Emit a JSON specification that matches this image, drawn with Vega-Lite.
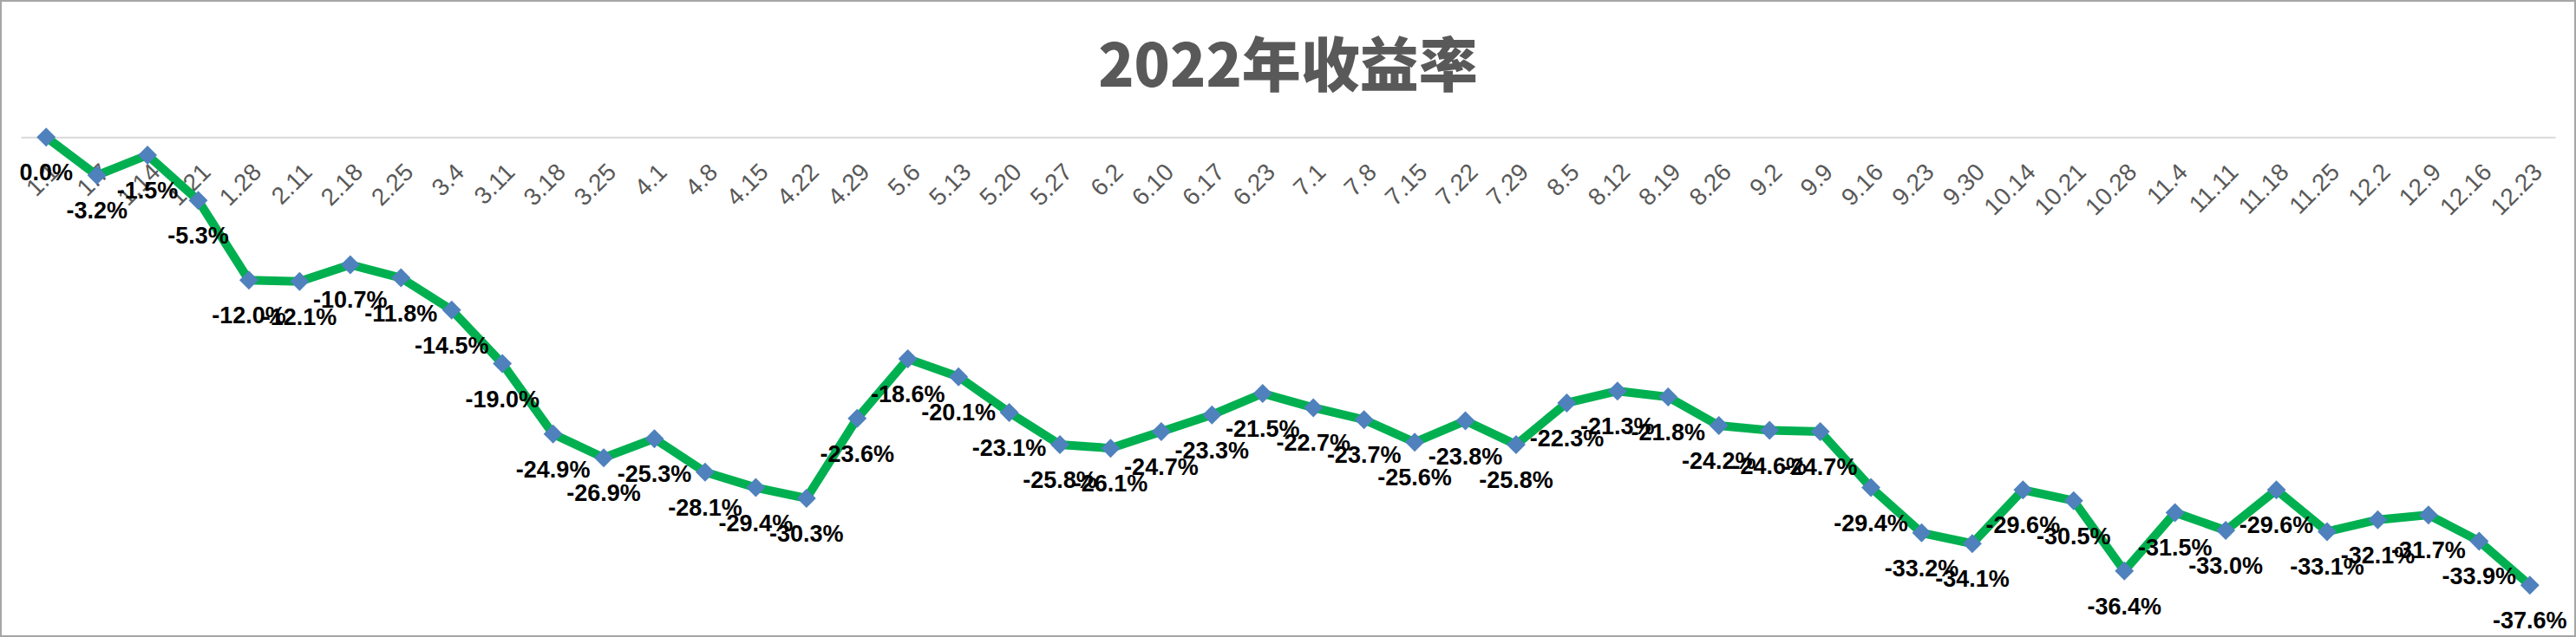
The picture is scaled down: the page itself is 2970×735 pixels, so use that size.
{
  "$schema": "https://vega.github.io/schema/vega-lite/v6.json",
  "width": 2970,
  "height": 735,
  "autosize": {"type": "none"},
  "padding": 0,
  "background": "white",
  "config": {
    "view": {"stroke": "#a6a6a6", "strokeWidth": 4},
    "locale": {"number": {"decimal": ".", "thousands": ",", "grouping": [3], "currency": ["$", ""], "minus": "-"}}
  },
  "title": {
    "text": "2022年收益率",
    "font": "Noto Sans CJK SC",
    "fontWeight": 900,
    "fontSize": 68,
    "color": "#595959",
    "anchor": "middle",
    "frame": "group",
    "baseline": "middle",
    "offset": -148
  },
  "data": {
    "values": [
      {"d": "1.1", "r": 0.0},
      {"d": "1.7", "r": -0.032},
      {"d": "1.14", "r": -0.015},
      {"d": "1.21", "r": -0.053},
      {"d": "1.28", "r": -0.120},
      {"d": "2.11", "r": -0.121},
      {"d": "2.18", "r": -0.107},
      {"d": "2.25", "r": -0.118},
      {"d": "3.4", "r": -0.145},
      {"d": "3.11", "r": -0.190},
      {"d": "3.18", "r": -0.249},
      {"d": "3.25", "r": -0.269},
      {"d": "4.1", "r": -0.253},
      {"d": "4.8", "r": -0.281},
      {"d": "4.15", "r": -0.294},
      {"d": "4.22", "r": -0.303},
      {"d": "4.29", "r": -0.236},
      {"d": "5.6", "r": -0.186},
      {"d": "5.13", "r": -0.201},
      {"d": "5.20", "r": -0.231},
      {"d": "5.27", "r": -0.258},
      {"d": "6.2", "r": -0.261},
      {"d": "6.10", "r": -0.247},
      {"d": "6.17", "r": -0.233},
      {"d": "6.23", "r": -0.215},
      {"d": "7.1", "r": -0.227},
      {"d": "7.8", "r": -0.237},
      {"d": "7.15", "r": -0.256},
      {"d": "7.22", "r": -0.238},
      {"d": "7.29", "r": -0.258},
      {"d": "8.5", "r": -0.223},
      {"d": "8.12", "r": -0.213},
      {"d": "8.19", "r": -0.218},
      {"d": "8.26", "r": -0.242},
      {"d": "9.2", "r": -0.246},
      {"d": "9.9", "r": -0.247},
      {"d": "9.16", "r": -0.294},
      {"d": "9.23", "r": -0.332},
      {"d": "9.30", "r": -0.341},
      {"d": "10.14", "r": -0.296},
      {"d": "10.21", "r": -0.305},
      {"d": "10.28", "r": -0.364},
      {"d": "11.4", "r": -0.315},
      {"d": "11.11", "r": -0.330},
      {"d": "11.18", "r": -0.296},
      {"d": "11.25", "r": -0.331},
      {"d": "12.2", "r": -0.321},
      {"d": "12.9", "r": -0.317},
      {"d": "12.16", "r": -0.339},
      {"d": "12.23", "r": -0.376}
    ]
  },
  "encoding": {
    "x": {
      "field": "d",
      "type": "ordinal",
      "sort": null,
      "scale": {"type": "point", "padding": 0.5, "range": [24, 2946]},
      "axis": {
        "title": null,
        "orient": "bottom",
        "offset": -576.7,
        "domain": true,
        "domainColor": "#d9d9d9",
        "domainWidth": 2,
        "ticks": false,
        "grid": false,
        "labelAngle": -45,
        "labelAlign": "right",
        "labelBaseline": "top",
        "labelPadding": 26,
        "labelFont": "Liberation Sans",
        "labelFontSize": 28,
        "labelColor": "#595959",
        "labelOverlap": false,
        "labelBound": false,
        "labelFlush": false
      }
    },
    "y": {
      "field": "r",
      "type": "quantitative",
      "scale": {"domain": [-0.4, 0], "range": [708.3, 158.3], "nice": false, "zero": false},
      "axis": null
    }
  },
  "layer": [
    {"mark": {"type": "line", "color": "#00B050", "strokeWidth": 10}},
    {"mark": {"type": "point", "shape": "diamond", "filled": true, "color": "#4F81BD", "opacity": 1, "size": 480}},
    {
      "mark": {"type": "text", "dy": 42, "baseline": "middle", "align": "center", "font": "Liberation Sans", "fontWeight": "bold", "fontSize": 27, "color": "#000000"},
      "encoding": {"text": {"field": "r", "type": "quantitative", "format": ".1%"}}
    }
  ]
}
